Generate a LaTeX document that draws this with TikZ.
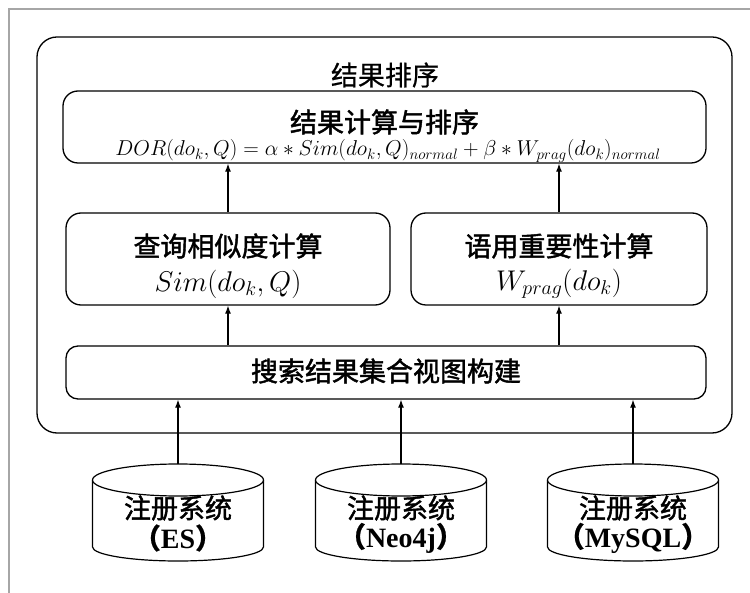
\RequirePackage{fix-cm}
\documentclass[tikz,border=0pt]{standalone}
\usepackage{fontspec}
\setmainfont{Liberation Serif}
\newfontfamily\cjk{Noto Sans CJK SC}
\newfontfamily\cjkm{Noto Sans CJK SC}[FakeBold=1.6]
\newfontfamily\cjkt{Noto Sans CJK SC}[FakeBold=0.6]
\usetikzlibrary{arrows.meta}
\tikzset{
  box/.style={draw, line width=1.3pt, rounded corners=15pt, inner sep=0pt},
  arr/.style={line width=1.2pt, -{Latex[length=8pt,width=6pt]}},
  zh/.style={font=\cjkm\fontsize{27}{30}\selectfont, inner sep=0pt},
  zhr/.style={font=\cjkt\fontsize{27}{30}\selectfont, inner sep=0pt},
  mth/.style={font=\fontsize{28.5}{30}\selectfont, inner sep=0pt},
  cylline/.style={line width=1.2pt},
}
\newcommand{\mycyl}[3]{%
  \node[minimum width=171pt, minimum height=98pt, inner sep=0pt] (#1) at (#2,513) {};
  \draw[cylline] (#2-85.5,480) -- (#2-85.5,547) arc[start angle=180, end angle=360, x radius=85.5pt, y radius=14pt] -- (#2+85.5,480);
  \draw[cylline, fill=white] (#2,480) ellipse[x radius=85.5pt, y radius=16pt];
  \node[zh] (#1t) at (#2,508) {注册系统};
  \node[inner sep=0pt, font=\bfseries\fontsize{28}{30}\selectfont] (#1s) at (#2,538) {{\cjkt （}#3{\cjkt ）}};
}
\begin{document}
\begin{tikzpicture}[x=1pt,y=-1pt]
\useasboundingbox (0,0) rectangle (750,593);
\draw[line width=2pt, color=black!35] (9,593) -- (9,9) -- (750,9);

\node[draw, line width=1.3pt, rounded corners=20pt, minimum width=695pt, minimum height=396pt] (outer) at (384.5,235) {};
\node[zhr] (title) at (385,75) {结果排序};

\node[box, minimum width=643pt, minimum height=72pt] (b1) at (384.5,127) {};
\node[zh] (b1t) at (384.5,122) {结果计算与排序};
\node[inner sep=0pt, font=\fontsize{21.5}{24}\selectfont] (b1m) at (388,151) {$DOR(do_k,Q)=\alpha\ast Sim(do_k,Q)_{normal}+\beta\ast W_{prag}(do_k)_{normal}$};

\node[box, minimum width=324pt, minimum height=92pt] (b2) at (228,259) {};
\node[zh] (b2t) at (228,246) {查询相似度计算};
\node[mth] (b2m) at (228,284) {$Sim(do_k,Q)$};

\node[box, minimum width=296pt, minimum height=92pt] (b3) at (559,259) {};
\node[zh] (b3t) at (559,246) {语用重要性计算};
\node[mth] (b3m) at (559,284) {$W_{prag}(do_k)$};

\node[box, rounded corners=12pt, minimum width=640pt, minimum height=53pt] (b4) at (386,372.5) {};
\node[zh] (b4t) at (386,371) {搜索结果集合视图构建};

\mycyl{es}{178}{ES}
\mycyl{neo}{401}{Neo4j}
\mycyl{my}{633}{MySQL}

\draw[arr] (b2.north) -- (b2.north |- b1.south);
\draw[arr] (b3.north) -- (b3.north |- b1.south);
\draw[arr] (b4.north -| b2) -- (b2.south);
\draw[arr] (b4.north -| b3) -- (b3.south);
\draw[arr] (es.north) -- (es.north |- b4.south);
\draw[arr] (neo.north) -- (neo.north |- b4.south);
\draw[arr] (my.north) -- (my.north |- b4.south);
\end{tikzpicture}
\end{document}
